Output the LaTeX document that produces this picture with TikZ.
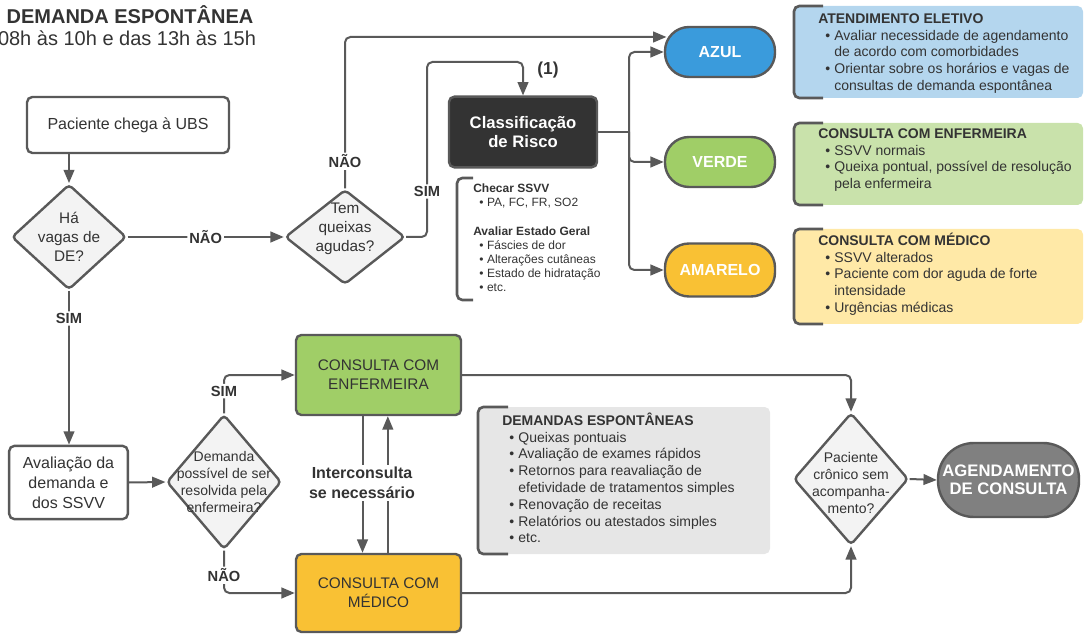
\documentclass[tikz,border=0pt]{standalone}
\usepackage{fontspec}
\setmainfont{Liberation Sans}
\usetikzlibrary{shapes.geometric,arrows.meta}

\definecolor{linha}{RGB}{89,89,89}
\definecolor{texto}{RGB}{51,51,51}
\definecolor{losangofundo}{RGB}{243,243,243}
\definecolor{azul}{RGB}{58,155,220}
\definecolor{verde}{RGB}{160,206,103}
\definecolor{amarelo}{RGB}{249,193,52}
\definecolor{escuro}{RGB}{51,51,51}
\definecolor{cinza}{RGB}{128,128,128}
\definecolor{azulclaro}{RGB}{180,214,238}
\definecolor{verdeclaro}{RGB}{201,226,171}
\definecolor{amareloclaro}{RGB}{255,233,167}
\definecolor{cinzaclaro}{RGB}{230,230,230}

\newcommand{\tit}[1]{\rule{0pt}{10pt}\textbf{#1}}
\newcommand{\marca}[1]{\hspace*{0.5em}\textbullet\hspace{0.3em}#1}
\newcommand{\segue}[1]{\hspace*{1.15em}#1}

\begin{document}
\begin{tikzpicture}[x=0.75pt, y=-0.75pt,
    caixa/.style={draw=linha, line width=1.8pt, rounded corners=4pt, fill=white,
      text=texto, align=center, font=\fontsize{12}{15}\selectfont},
    losango/.style={diamond, draw=linha, line width=1.8pt, rounded corners=3pt,
      fill=losangofundo, inner sep=0pt},
    rotulo/.style={text=texto, align=center, font=\fontsize{11.5}{14.25}\selectfont},
    rotulopeq/.style={text=texto, align=center, font=\fontsize{10.5}{12.75}\selectfont},
    risco/.style={draw=linha, line width=1.8pt, rounded corners=18pt, text=white, align=center,
      minimum width=82.5pt, minimum height=37.5pt, font=\bfseries\fontsize{12}{14}\selectfont},
    consulta/.style={caixa, minimum width=123.75pt, minimum height=60pt,
      font=\fontsize{11.5}{14.25}\selectfont},
    etiq/.style={fill=white, inner sep=1.5pt, text=texto, font=\bfseries\fontsize{11}{13}\selectfont},
    lista/.style={anchor=north west, inner sep=0pt, align=left, text=texto,
      font=\fontsize{10.5}{12.6}\selectfont},
    colchete/.style={draw=linha, line width=2pt, rounded corners=4pt},
    flecha/.style={draw=linha, line width=1.5pt, rounded corners=4pt,
      -{Triangle[length=10pt,width=8pt]}},
    conector/.style={draw=linha, line width=1.5pt, rounded corners=4pt}]

  \useasboundingbox (0,0) rectangle (1084,634);

  % Titulo
  \node[text=texto, font=\bfseries\fontsize{15}{18}\selectfont] (titulo) at (130,15) {DEMANDA ESPONTÂNEA};
  \node[text=texto, font=\fontsize{15}{18}\selectfont] (horario) at (127,38) {08h às 10h e das 13h às 15h};

  % Entrada del paciente
  \node[caixa, minimum width=151.5pt, minimum height=42pt] (chegada) at (128,125) {Paciente chega à UBS};

  % Rombos de decision
  \node[losango, minimum width=86pt, minimum height=79pt,
    label={[rotulo]center:Há\\vagas de\\DE?}] (vagas) at (69,237) {};
  \node[losango, minimum width=90pt, minimum height=71pt,
    label={[rotulo, yshift=6pt]center:Tem\\queixas\\agudas?}] (queixas) at (345,237) {};

  % Clasificacion de riesgo
  \node[caixa, fill=escuro, text=white, minimum width=111pt, minimum height=53pt,
    font=\bfseries\fontsize{12.5}{14.5}\selectfont] (classif) at (523,132) {Classificação\\de Risco};
  \node[text=texto, font=\bfseries\fontsize{13}{15}\selectfont] (um) at (548,70) {(1)};

  % Lista bajo la clasificacion
  \draw[colchete] (473,178) -- (457,178) -- (457,300) -- (473,300);
  \node[lista, font=\fontsize{9}{10.6}\selectfont] (checar) at (473,180.7)
    {\rule{0pt}{8.5pt}\textbf{Checar SSVV}\\
     \marca{PA, FC, FR, SO2}\\[11pt]
     \textbf{Avaliar Estado Geral}\\
     \marca{Fáscies de dor}\\
     \marca{Alterações cutâneas}\\
     \marca{Estado de hidratação}\\
     \marca{etc.}};

  % Colores de riesgo
  \node[risco, fill=azul] (risco-azul) at (720,52) {AZUL};
  \node[risco, fill=verde] (risco-verde) at (720,162) {VERDE};
  \node[risco, fill=amarelo, minimum height=39.75pt] (risco-amarelo) at (720,270) {AMARELO};

  % Cuadros de la derecha
  \fill[azulclaro, rounded corners=4pt] (795,6) rectangle (1083,98);
  \draw[colchete] (823,6) -- (794,6) -- (794,98) -- (823,98);
  \node[lista] (eletivo) at (818,9.7)
    {\tit{ATENDIMENTO ELETIVO}\\
     \marca{Avaliar necessidade de agendamento}\\
     \segue{de acordo com comorbidades}\\
     \marca{Orientar sobre os horários e vagas de}\\
     \segue{consultas de demanda espontânea}};

  \fill[verdeclaro, rounded corners=4pt] (795,123) rectangle (1083,205);
  \draw[colchete] (823,123) -- (794,123) -- (794,205) -- (823,205);
  \node[lista] (enf-info) at (818,124.7)
    {\tit{CONSULTA COM ENFERMEIRA}\\
     \marca{SSVV normais}\\
     \marca{Queixa pontual, possível de resolução}\\
     \segue{pela enfermeira}};

  \fill[amareloclaro, rounded corners=4pt] (795,229) rectangle (1083,324);
  \draw[colchete] (823,229) -- (794,229) -- (794,324) -- (823,324);
  \node[lista] (med-info) at (818,231.7)
    {\tit{CONSULTA COM MÉDICO}\\
     \marca{SSVV alterados}\\
     \marca{Paciente com dor aguda de forte}\\
     \segue{intensidade}\\
     \marca{Urgências médicas}};

  % Parte inferior
  \node[caixa, minimum width=89pt, minimum height=55pt] (avaliacao) at (68.5,482.5) {Avaliação da\\demanda e\\dos SSVV};
  \node[losango, minimum width=86pt, minimum height=101pt,
    label={[rotulopeq]center:Demanda\\possível de ser\\resolvida pela\\enfermeira?}] (resolvida) at (224,482) {};
  \node[consulta, fill=verde] (enfermeira) at (378.5,375) {CONSULTA COM\\ENFERMEIRA};
  \node[consulta, fill=amarelo, minimum height=58.5pt] (medico) at (378.5,593) {CONSULTA COM\\MÉDICO};

  \fill[cinzaclaro, rounded corners=4pt] (479,407) rectangle (770,554);
  \draw[colchete] (508,407) -- (478,407) -- (478,554) -- (508,554);
  \node[lista] (demandas) at (502,411.7)
    {\tit{DEMANDAS ESPONTÂNEAS}\\
     \marca{Queixas pontuais}\\
     \marca{Avaliação de exames rápidos}\\
     \marca{Retornos para reavaliação de}\\
     \segue{efetividade de tratamentos simples}\\
     \marca{Renovação de receitas}\\
     \marca{Relatórios ou atestados simples}\\
     \marca{etc.}};

  \node[losango, minimum width=86pt, minimum height=99pt,
    label={[rotulopeq, yshift=-3pt]center:Paciente\\crônico sem\\acompanha-\\mento?}] (cronico) at (851,479) {};
  \node[risco, fill=cinza, rounded corners=27pt, minimum width=102.75pt, minimum height=55.5pt,
    font=\bfseries\fontsize{12.5}{13.5}\selectfont] (agendamento) at (1008.5,480) {AGENDAMENTO\\DE CONSULTA};

  % Conectores
  \coordinate (topo) at (345,37);
  \coordinate (desvio) at (427,62);
  \coordinate (ramo) at (629,132);

  \draw[flecha] (chegada.south -| vagas.north) -- (vagas.north);
  \draw[flecha] (vagas.east) -- node[etiq]{NÃO} (queixas.west);
  \draw[flecha] (queixas.north) -- node[etiq, pos=0.18]{NÃO} (topo) -- ([xshift=2pt]topo -| risco-azul.west);
  \draw[flecha] (queixas.east) -| node[etiq, pos=0.63]{SIM} (desvio) -| (classif.north);

  \draw[conector] (classif.east) -- (ramo);
  \draw[flecha] (ramo) |- (risco-azul.west);
  \draw[flecha] (ramo) |- (risco-verde.west);
  \draw[flecha] (ramo) |- (risco-amarelo.west);

  \draw[flecha] (vagas.south) -- node[etiq, pos=0.18]{SIM} (vagas.south |- avaliacao.north);
  \draw[flecha] (avaliacao.east) -- (resolvida.west);
  \draw[flecha] (resolvida.north) |- node[etiq, pos=0.29]{SIM} (enfermeira.west);
  \draw[flecha] (resolvida.south) |- node[etiq, pos=0.29]{NÃO} (medico.west);

  \draw[flecha] ([xshift=-12pt]enfermeira.south) -- ([xshift=-12pt]medico.north);
  \draw[flecha] ([xshift=7pt]medico.north) -- ([xshift=7pt]enfermeira.south);
  \node[etiq, align=center, font=\bfseries\fontsize{12}{15}\selectfont] (inter) at (362,483) {Interconsulta\\se necessário};

  \draw[flecha] (enfermeira.east) -| (cronico.north);
  \draw[flecha] (medico.east) -| (cronico.south);
  \draw[flecha] (cronico.east) -- (agendamento.west);

\end{tikzpicture}
\end{document}
